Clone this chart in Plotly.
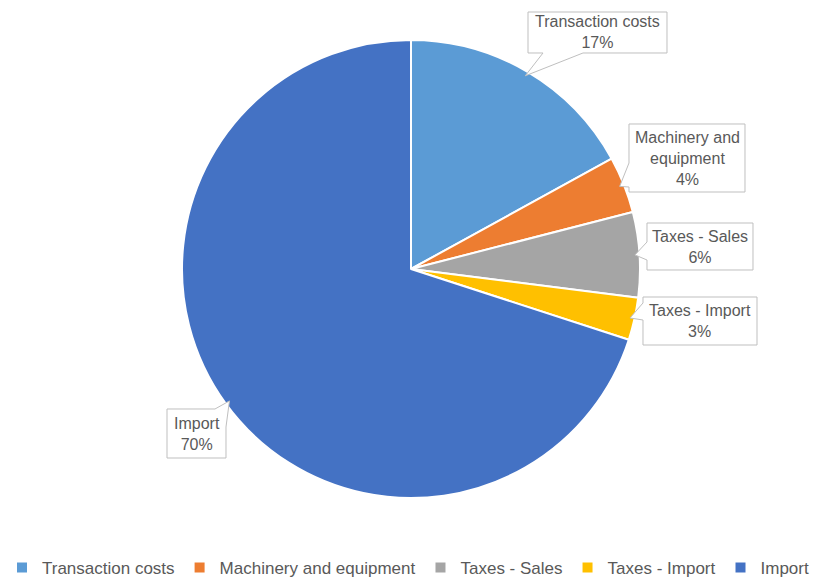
import math
import plotly.graph_objects as go

# Cost breakdown (share of total, %)
categories = ["Transaction costs", "Machinery and equipment", "Taxes - Sales", "Taxes - Import", "Import"]
shares = [17, 4, 6, 3, 70]
colors = ["#5B9BD5", "#ED7D31", "#A5A5A5", "#FFC000", "#4472C4"]

W, H = 816, 586
CX, CY, R = 411, 269, 229          # pie centre and radius in pixels
TEXT = "#595959"
BORDER = "#BFBFBF"
FONT = "Liberation Sans"

# Callout boxes: (left, top, right, bottom) in pixels, plus pointer base on the box edge
callouts = {
    "Transaction costs": dict(box=(528, 12, 667, 53), side="bottom", base=(543, 583)),
    "Machinery and equipment": dict(box=(629, 124, 745, 192), side="left", base=(163, 187)),
    "Taxes - Sales": dict(box=(647, 223, 753, 270), side="left", base=(242, 260)),
    "Taxes - Import": dict(box=(643, 297, 757, 345), side="left", base=(303, 320)),
    "Import": dict(box=(167, 409, 226, 458), side="topright", base=(215, 427)),
}
wrap = {"Machinery and equipment": "Machinery and<br>equipment"}


def px(x):
    return x / W


def py(y):
    return 1 - y / H


fig = go.Figure(
    go.Pie(
        labels=categories,
        values=shares,
        sort=False,
        direction="clockwise",
        rotation=0,
        marker=dict(colors=colors, line=dict(color="white", width=2)),
        textinfo="none",
        hoverinfo="label+percent",
        domain=dict(x=[px(CX - R), px(CX + R)], y=[py(CY + R), py(CY - R)]),
    )
)

shapes = []
annotations = []
total = sum(shares)
cum = 0
for cat, val in zip(categories, shares):
    mid = (cum + val / 2) / total * 2 * math.pi
    cum += val
    tx = CX + 0.98 * R * math.sin(mid)
    ty = CY - 0.98 * R * math.cos(mid)
    c = callouts[cat]
    l, t, r, b = c["box"]
    a1, a2 = c["base"]
    if c["side"] == "bottom":
        pts = [(l, t), (r, t), (r, b), (a2, b), (tx, ty), (a1, b), (l, b)]
    elif c["side"] == "left":
        pts = [(l, t), (r, t), (r, b), (l, b), (l, a2), (tx, ty), (l, a1)]
    else:  # pointer leaving the top-right corner
        pts = [(l, t), (a1, t), (tx, ty), (r, a2), (r, b), (l, b)]
    path = "M " + " L ".join(f"{px(x):.5f},{py(y):.5f}" for x, y in pts) + " Z"
    shapes.append(dict(type="path", xref="paper", yref="paper", path=path,
                       fillcolor="white", line=dict(color=BORDER, width=1)))
    label = wrap.get(cat, cat)
    annotations.append(dict(
        x=px((l + r) / 2), y=py((t + b) / 2), xref="paper", yref="paper",
        text=f"{label}<br>{val}%", showarrow=False, align="center",
        xanchor="center", yanchor="middle",
        font=dict(family=FONT, size=16, color=TEXT),
    ))

fig.update_layout(
    width=W, height=H,
    margin=dict(l=0, r=0, t=0, b=0),
    paper_bgcolor="white",
    shapes=shapes,
    annotations=annotations,
    showlegend=True,
    legend=dict(
        orientation="h", x=0.5, xanchor="center", y=0, yanchor="bottom",
        font=dict(family=FONT, size=17, color=TEXT),
        traceorder="normal",
    ),
)

fig.write_html("out.html")
